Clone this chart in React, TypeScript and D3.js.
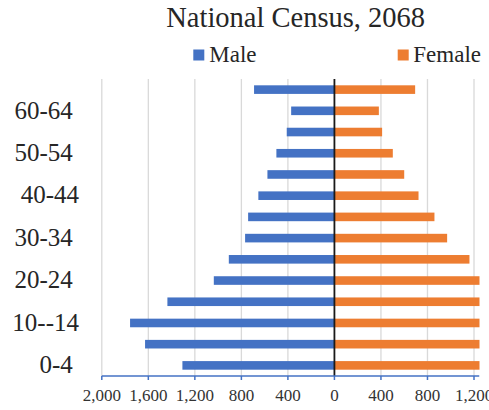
import React from "react";
import * as d3 from "d3";

const categories = ["0-4", "5-9", "10-14", "15-19", "20-24", "25-29", "30-34", "35-39", "40-44", "45-49", "50-54", "55-59", "60-64", "65+"];
const categoryLabels = ["0-4 ", "", "10--14", "", "20-24 ", "", "30-34 ", "", "40-44", "", "50-54 ", "", "60-64 ", ""];
const maleValues = [1307, 1628, 1757, 1436, 1037, 908, 768, 742, 654, 576, 499, 410, 372, 691];
const femaleValues = [1350, 1550, 1700, 1450, 1300, 1161, 969, 860, 723, 600, 502, 410, 382, 694];
const xTicks = [-2000, -1600, -1200, -800, -400, 0, 400, 800, 1200];
const seriesNames = ["Male", "Female"];
const title = "National Census, 2068";

const W = 489;
const H = 410;
const BLUE = "#4472C4";
const ORANGE = "#ED7D31";
const FONT = "'Liberation Serif', 'Times New Roman', serif";

export default function App() {
  const x = d3.scaleLinear().domain([-2000, 1200]).range([101.8, 474]);
  const y = d3.scaleBand<string>().domain(categories).range([376, 79]).padding(0);
  const plotTop = 79;
  const plotBottom = 376;
  const plotRight = 479.5;
  const barH = 8.6;
  const fmt = d3.format(",");

  return (
    <svg width={W} height={H} style={{ position: "absolute", left: 0, top: 0, background: "#fff" }} fontFamily={FONT}>
      <defs>
        <clipPath id="plotclip">
          <rect x={0} y={0} width={plotRight} height={H} />
        </clipPath>
      </defs>
      <text x={295.7} y={27} textAnchor="middle" fontSize={28.5} fill="#262626">{title}</text>
      <rect x={193.3} y={49.5} width={11} height={11} fill={BLUE} />
      <text x={209.3} y={61.5} fontSize={23} fill="#262626">{seriesNames[0]}</text>
      <rect x={397.7} y={49.5} width={11} height={11} fill={ORANGE} />
      <text x={413.3} y={61.5} fontSize={23} fill="#262626">{seriesNames[1]}</text>

      <g clipPath="url(#plotclip)">
        {xTicks.filter((t) => t !== 0).map((t) => (
          <line key={"g" + t} x1={x(t)} x2={x(t)} y1={plotTop} y2={plotBottom} stroke="#d9d9d9" strokeWidth={1.3} />
        ))}
        {categories.map((c, i) => (
          <rect key={"m" + c} x={x(-maleValues[i])} width={x(0) - x(-maleValues[i])} y={(y(c) as number) + y.bandwidth() / 2 - barH / 2} height={barH} fill={BLUE} />
        ))}
        {categories.map((c, i) => (
          <rect key={"f" + c} x={x(0)} width={x(femaleValues[i]) - x(0)} y={(y(c) as number) + y.bandwidth() / 2 - barH / 2} height={barH} fill={ORANGE} />
        ))}
        <line x1={x(0)} x2={x(0)} y1={plotTop} y2={plotBottom} stroke="#1a1a1a" strokeWidth={1.8} />
        <line x1={x(-2000)} x2={plotRight} y1={plotBottom} y2={plotBottom} stroke={BLUE} strokeWidth={1.5} />
        {xTicks.map((t) => (
          <line key={"t" + t} x1={x(t)} x2={x(t)} y1={plotBottom} y2={plotBottom + 4} stroke={BLUE} strokeWidth={1.5} />
        ))}
      </g>
      {xTicks.map((t) => (
        <text key={"l" + t} x={x(t)} y={401} textAnchor="middle" fontSize={17} fill="#333">{fmt(Math.abs(t))}</text>
      ))}
      {categories.map((c, i) => (
        <text key={"c" + c} x={79} y={(y(c) as number) + y.bandwidth() / 2 + 7.8} textAnchor="end" fontSize={25} fill="#262626" style={{ whiteSpace: "pre" }}>{categoryLabels[i]}</text>
      ))}
    </svg>
  );
}
